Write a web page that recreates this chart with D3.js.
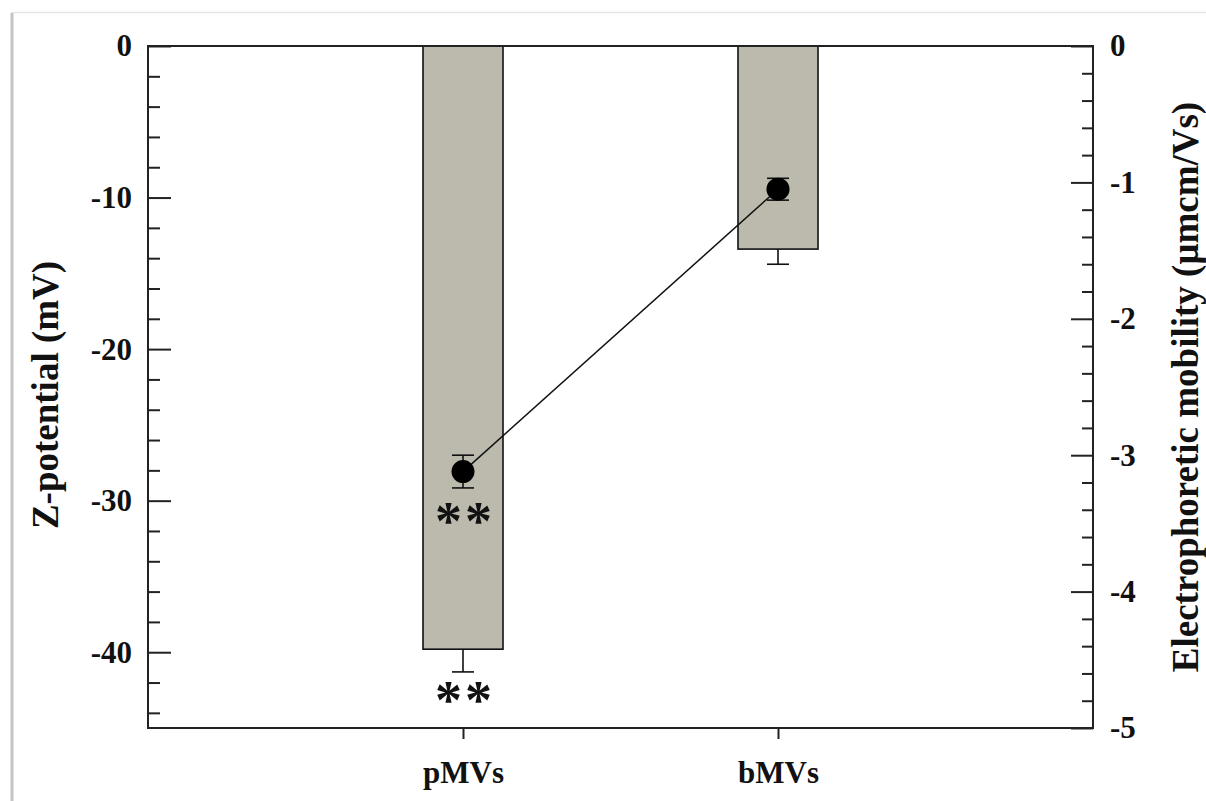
<!DOCTYPE html>
<html>
<head>
<meta charset="utf-8">
<script src="https://cdn.jsdelivr.net/npm/d3@7"></script>
<style>
  body { margin: 0; background: #fff; }
  svg { display: block; font-family: "Liberation Serif", "Times New Roman", serif; font-weight: bold; }
</style>
</head>
<body>
<script>
// chart data
const categories = ["pMVs", "bMVs"];
const zeta = [-39.8, -13.4];
const zetaErr = [1.5, 1.0];
const mobility = [-3.12, -1.05];
const mobilityErr = [0.12, 0.08];
const stars = ["**", "**"];
const zetaTicks = [0, -10, -20, -30, -40];
const mobilityTicks = [0, -1, -2, -3, -4, -5];

// canvas variables
const width = 1206;
const height = 801;
const plotLeft = 148;
const plotRight = 1093;
const plotTop = 46;
const plotBottom = 728;
const barWidth = 80;
const capWidth = 22;
const radius = 11.5;

const svg = d3
  .select("body")
  .append("svg")
  .attr("width", width)
  .attr("height", height);

// page shadow edge
svg
  .append("path")
  .attr("d", `M12,${height} V12.5 H${width}`)
  .attr("fill", "none")
  .attr("stroke", "#e6e6e6")
  .attr("stroke-width", 1.5);
svg
  .append("line")
  .attr("x1", 12)
  .attr("x2", 12)
  .attr("y1", 13)
  .attr("y2", height)
  .attr("stroke", "#c4c4c4")
  .attr("stroke-width", 3);

// scales
const xScale = d3.scalePoint().domain(categories).range([plotLeft, plotRight]).padding(1);
const yLeft = d3.scaleLinear().domain([-45, 0]).range([plotBottom, plotTop]);
const yRight = d3.scaleLinear().domain([-5, 0]).range([plotBottom, plotTop]);

// bars
svg
  .selectAll("rect.bar")
  .data(categories)
  .enter()
  .append("rect")
  .attr("class", "bar")
  .attr("x", (d) => xScale(d) - barWidth / 2)
  .attr("y", yLeft(0))
  .attr("width", barWidth)
  .attr("height", (d, i) => yLeft(zeta[i]) - yLeft(0))
  .attr("fill", "#bbbaad")
  .attr("stroke", "#111")
  .attr("stroke-width", 1.6);

// bar error bars (downward only)
categories.forEach((c, i) => {
  const cx = xScale(c);
  const y0 = yLeft(zeta[i]);
  const y1 = yLeft(zeta[i] - zetaErr[i]);
  svg.append("line").attr("x1", cx).attr("x2", cx).attr("y1", y0).attr("y2", y1)
    .attr("stroke", "#111").attr("stroke-width", 1.6);
  svg.append("line").attr("x1", cx - capWidth / 2).attr("x2", cx + capWidth / 2).attr("y1", y1).attr("y2", y1)
    .attr("stroke", "#111").attr("stroke-width", 1.6);
});

// mobility line
svg
  .append("path")
  .datum(categories)
  .attr("d", d3.line().x((d) => xScale(d)).y((d, i) => yRight(mobility[i])))
  .attr("fill", "none")
  .attr("stroke", "#111")
  .attr("stroke-width", 1.5);

// mobility error bars and dots
categories.forEach((c, i) => {
  const cx = xScale(c);
  const yHi = yRight(mobility[i] + mobilityErr[i]);
  const yLo = yRight(mobility[i] - mobilityErr[i]);
  svg.append("line").attr("x1", cx).attr("x2", cx).attr("y1", yHi).attr("y2", yLo)
    .attr("stroke", "#111").attr("stroke-width", 1.6);
  [yHi, yLo].forEach((yy) => {
    svg.append("line").attr("x1", cx - capWidth / 2).attr("x2", cx + capWidth / 2).attr("y1", yy).attr("y2", yy)
      .attr("stroke", "#111").attr("stroke-width", 1.6);
  });
});
svg
  .selectAll("circle.dot")
  .data(categories)
  .enter()
  .append("circle")
  .attr("class", "dot")
  .attr("cx", (d) => xScale(d))
  .attr("cy", (d, i) => yRight(mobility[i]))
  .attr("r", radius)
  .attr("fill", "#000");

// significance stars for pMVs (dot and bar)
const starRow = [
  yRight(mobility[0] - mobilityErr[0]) + 26,
  yLeft(zeta[0] - zetaErr[0]) + 21,
];
starRow.forEach((yy, i) => {
  svg
    .append("text")
    .attr("x", xScale(categories[0]) + 2)
    .attr("y", yy + 25)
    .attr("text-anchor", "middle")
    .style("font-size", "54px")
    .style("font-weight", "bold")
    .style("letter-spacing", "3px")
    .attr("fill", "#111")
    .text(stars[i]);
});

// frame
svg
  .append("rect")
  .attr("x", plotLeft)
  .attr("y", plotTop)
  .attr("width", plotRight - plotLeft)
  .attr("height", plotBottom - plotTop)
  .attr("fill", "none")
  .attr("stroke", "#222")
  .attr("stroke-width", 2);

const plainFormat = (d) => String(d);

// left axis
const minorLeft = d3.range(0, -45, -2).filter((v) => v % 10 !== 0);
svg
  .append("g")
  .attr("transform", `translate(${plotLeft},0)`)
  .call(d3.axisLeft(yLeft).tickValues(minorLeft).tickSize(-12).tickFormat(""))
  .call((g) => g.select(".domain").remove());
svg
  .append("g")
  .attr("id", "y-left")
  .attr("transform", `translate(${plotLeft},0)`)
  .call(d3.axisLeft(yLeft).tickValues(zetaTicks).tickSize(-23).tickPadding(16).tickFormat(plainFormat))
  .call((g) => g.select(".domain").remove());

// right axis
const minorRight = d3.range(0, -5.01, -0.2).map((v) => +v.toFixed(1)).filter((v) => !Number.isInteger(v));
svg
  .append("g")
  .attr("transform", `translate(${plotRight},0)`)
  .call(d3.axisRight(yRight).tickValues(minorRight).tickSize(-11).tickFormat(""))
  .call((g) => g.select(".domain").remove());
svg
  .append("g")
  .attr("id", "y-right")
  .attr("transform", `translate(${plotRight},0)`)
  .call(d3.axisRight(yRight).tickValues(mobilityTicks).tickSize(-22).tickPadding(17).tickFormat(plainFormat))
  .call((g) => g.select(".domain").remove());

// bottom axis
svg
  .append("g")
  .attr("id", "x-axis")
  .attr("transform", `translate(0,${plotBottom})`)
  .call(d3.axisBottom(xScale).tickSize(11).tickSizeOuter(0).tickPadding(22))
  .call((g) => g.select(".domain").remove());

svg.selectAll(".tick line").attr("stroke", "#222").attr("stroke-width", 2);
svg
  .selectAll(".tick text")
  .attr("fill", "#111")
  .style("font-family", "'Liberation Serif', 'Times New Roman', serif")
  .style("font-weight", "bold")
  .style("font-size", "31px");

// axis titles
svg
  .append("text")
  .attr("transform", `translate(58,395) rotate(-90)`)
  .attr("text-anchor", "middle")
  .style("font-size", "37px")
  .attr("fill", "#111")
  .text("Z-potential (mV)");
svg
  .append("text")
  .attr("transform", `translate(1198,387) rotate(-90)`)
  .attr("text-anchor", "middle")
  .style("font-size", "37px")
  .attr("fill", "#111")
  .text("Electrophoretic mobility (μmcm/Vs)");
</script>
</body>
</html>
